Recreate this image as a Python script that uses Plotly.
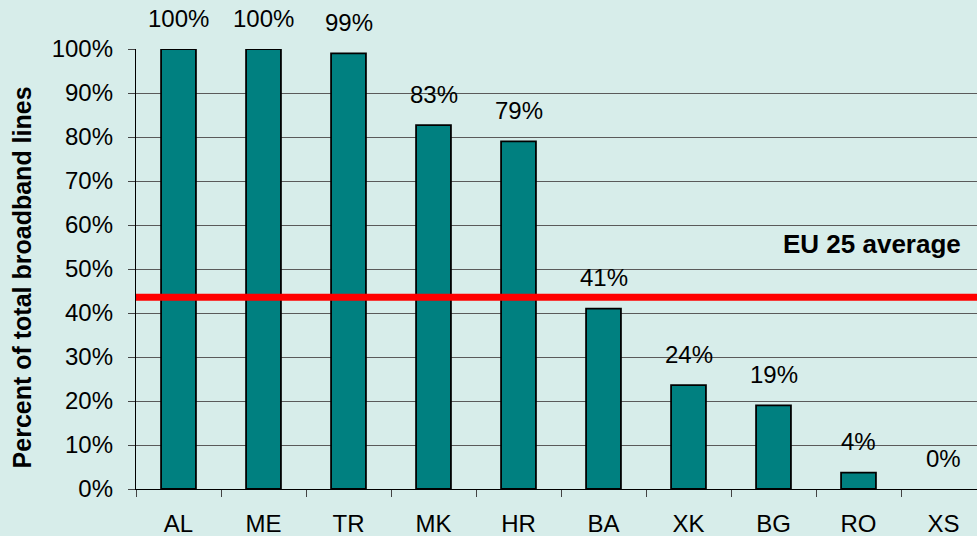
import plotly.graph_objects as go

categories = ["AL", "ME", "TR", "MK", "HR", "BA", "XK", "BG", "RO", "XS"]
values = [100, 100, 99, 82.7, 79, 41, 23.6, 19, 3.7, 0]
labels = ["100%", "100%", "99%", "83%", "79%", "41%", "24%", "19%", "4%", "0%"]
eu_average = 43.6
tick_vals = [0, 10, 20, 30, 40, 50, 60, 70, 80, 90, 100]
tick_text = [f"{v}%" for v in tick_vals]

BG = "#D7EDEA"
FONT = "Liberation Sans, Arial, sans-serif"

fig = go.Figure()
fig.add_trace(go.Bar(
    x=categories, y=values, width=0.41,
    marker=dict(color="#008080",
                line=dict(color="black", width=[1.8 if v > 0 else 0 for v in values])),
    hoverinfo="x+y",
))

for c, v, t in zip(categories, values, labels):
    fig.add_annotation(x=c, y=v, text=t, showarrow=False, yshift=31,
                       font=dict(size=24, color="black", family=FONT))

fig.add_shape(type="line", xref="paper", x0=0, x1=1, y0=eu_average, y1=eu_average,
              line=dict(color="#FF0000", width=7), layer="above")
fig.add_annotation(xref="paper", x=0.983, y=55.6, xanchor="right", text="<b>EU 25 average</b>",
                   showarrow=False, font=dict(size=26, color="black", family=FONT))
fig.add_annotation(xref="paper", yref="paper", x=-0.136, y=0.48, textangle=-90,
                   xanchor="center", yanchor="middle",
                   text="<b>Percent of total broadband lines</b>", showarrow=False,
                   font=dict(size=25, color="black", family=FONT))

fig.update_layout(
    width=977, height=536,
    margin=dict(l=136, r=0, t=49, b=47),
    paper_bgcolor=BG, plot_bgcolor=BG,
    font=dict(family=FONT, size=24, color="black"),
    showlegend=False,
    bargap=0.59,
)
fig.update_xaxes(
    type="category", range=[-0.5, 9.394],
    showline=True, linecolor="black", linewidth=1.3,
    ticks="outside", tickson="boundaries", ticklen=7, tickcolor="#444", tickwidth=1.3,
    showgrid=False, tickfont=dict(size=24), ticklabelstandoff=13,
)
fig.update_yaxes(
    range=[0, 100], tickvals=tick_vals, ticktext=tick_text,
    showline=True, linecolor="black", linewidth=1.3,
    ticks="outside", ticklen=7, tickcolor="#444", tickwidth=1.3,
    showgrid=True, gridcolor="#5a5a5a", gridwidth=1,
    zeroline=False, tickfont=dict(size=24), ticklabelstandoff=10,
)

fig.write_html(
    "out.html",
    config={"displayModeBar": False},
    post_script="document.body.style.margin='0';document.body.style.overflow='hidden';"
                "document.body.style.background='" + BG + "';",
)
